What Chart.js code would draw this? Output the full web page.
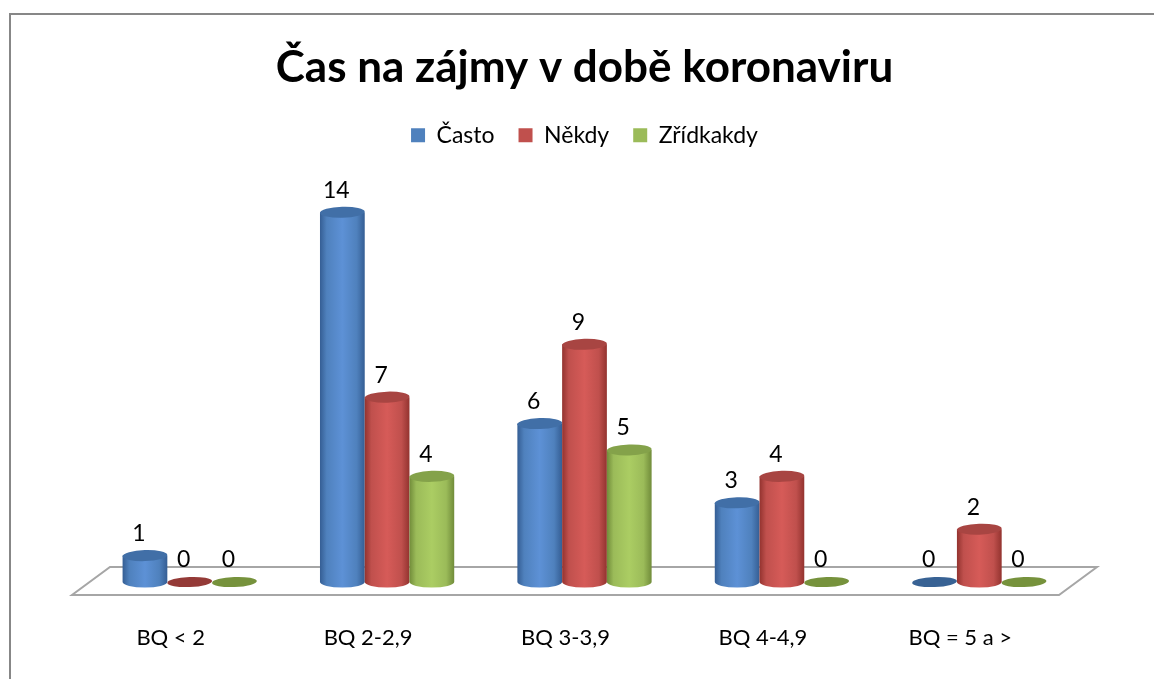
<!DOCTYPE html>
<html><head><meta charset="utf-8">
<script src="https://cdn.jsdelivr.net/npm/chart.js@4.4.1/dist/chart.umd.min.js"></script>
<style>html,body{margin:0;padding:0;background:#fff;overflow:hidden}canvas{display:block}</style>
</head><body>
<canvas id="c" width="1154" height="679"></canvas>
<script>
const chartTitle = 'Čas na zájmy v době koronaviru';
const categories = ['BQ < 2', 'BQ 2-2,9', 'BQ 3-3,9', 'BQ 4-4,9', 'BQ = 5 a >'];
const seriesNames = ['Často', 'Někdy', 'Zřídkakdy'];
const casto = [1, 14, 6, 3, 0];
const nekdy = [0, 7, 9, 4, 2];
const zridkakdy = [0, 4, 5, 0, 0];

const palettes = [
  {base:'#4F81BD', light:'#5D91D6', dark:'#355E94', top:'#416FA7', zero:'#386294'},
  {base:'#C0504D', light:'#D65B58', dark:'#93332F', top:'#A84542', zero:'#943A37'},
  {base:'#9BBB59', light:'#ABCD63', dark:'#718C3A', top:'#84A24A', zero:'#76923C'}
];

function drawCyl(ctx, el, p) {
  const {x, y, base, width} = el.getProps(['x','y','base','width'], true);
  const rx = width / 2, ry = 5.5, l = x - rx, r = x + rx;
  ctx.save();
  if (base - y > 0.5) {
    const g = ctx.createLinearGradient(l, 0, r, 0);
    g.addColorStop(0, p.dark);
    g.addColorStop(0.15, p.base);
    g.addColorStop(0.5, p.light);
    g.addColorStop(0.82, p.base);
    g.addColorStop(1, p.dark);
    ctx.beginPath();
    ctx.moveTo(l, y);
    ctx.lineTo(l, base);
    ctx.ellipse(x, base, rx, ry, 0, Math.PI, 0, true);
    ctx.lineTo(r, y);
    ctx.closePath();
    ctx.fillStyle = g;
    ctx.fill();
    ctx.beginPath();
    ctx.ellipse(x, y, rx, ry, -0.03, 0, Math.PI * 2);
    ctx.fillStyle = p.top;
    ctx.fill();
  } else {
    ctx.beginPath();
    ctx.ellipse(x, base, rx, ry - 0.5, -0.04, 0, Math.PI * 2);
    ctx.fillStyle = p.zero;
    ctx.fill();
  }
  ctx.restore();
}

const cylinders = {
  id: 'cylinders',
  beforeDraw(chart) {
    const ctx = chart.ctx;
    ctx.save();
    ctx.strokeStyle = '#878787';
    ctx.lineWidth = 2;
    ctx.beginPath();
    ctx.moveTo(10, 679);
    ctx.lineTo(10, 14);
    ctx.lineTo(1154, 14);
    ctx.stroke();
    ctx.restore();
  },
  beforeDatasetsDraw(chart) {
    const ctx = chart.ctx, a = chart.chartArea, b = a.bottom;
    ctx.save();
    ctx.strokeStyle = '#A6A6A6';
    ctx.lineWidth = 2;
    ctx.beginPath();
    ctx.moveTo(a.left + 19, b - 15);
    ctx.lineTo(a.right + 19, b - 15);
    ctx.lineTo(a.right - 19, b + 13);
    ctx.lineTo(a.left - 19, b + 13);
    ctx.closePath();
    ctx.stroke();
    ctx.restore();
  },
  beforeDatasetDraw() { return false; },
  afterDatasetsDraw(chart) {
    const ctx = chart.ctx;
    for (let i = 0; i < categories.length; i++) {
      chart.data.datasets.forEach((ds, di) => {
        drawCyl(ctx, chart.getDatasetMeta(di).data[i], palettes[di]);
      });
    }
    ctx.save();
    ctx.font = '23px Lato';
    ctx.fillStyle = '#000';
    ctx.textAlign = 'center';
    ctx.textBaseline = 'middle';
    chart.data.datasets.forEach((ds, di) => {
      chart.getDatasetMeta(di).data.forEach((el, i) => {
        ctx.fillText(String(ds.data[i]), el.x - 6, el.y - 22);
      });
    });
    ctx.restore();
  }
};

const seriesData = [casto, nekdy, zridkakdy];
new Chart(document.getElementById('c'), {
  type: 'bar',
  data: {
    labels: categories,
    datasets: seriesNames.map((n, i) => ({
      label: n,
      data: seriesData[i],
      backgroundColor: palettes[i].base,
      borderWidth: 0,
      categoryPercentage: 0.68,
      barPercentage: 1.0
    }))
  },
  options: {
    responsive: false,
    animation: false,
    layout: {padding: {top: 14, left: 91, right: 76, bottom: 27}},
    plugins: {
      title: {display: true, text: chartTitle, color: '#000',
        font: {family: 'Lato', size: 44, weight: 'bold', lineHeight: 1.2},
        padding: {top: 27, bottom: 6}},
      legend: {position: 'top',
        labels: {font: {family: 'Lato', size: 23}, color: '#000', boxWidth: 14, boxHeight: 14, padding: 24}},
      tooltip: {enabled: false}
    },
    scales: {
      x: {grid: {display: false, drawTicks: false}, border: {display: false},
        afterFit(scale) { scale.height = 70; },
        ticks: {font: {family: 'Lato', size: 22}, color: '#000', padding: 43, labelOffset: -19, maxRotation: 0, autoSkip: false}},
      y: {display: false, min: 0, max: 16.1}
    }
  },
  plugins: [cylinders]
});
</script>
</body></html>
